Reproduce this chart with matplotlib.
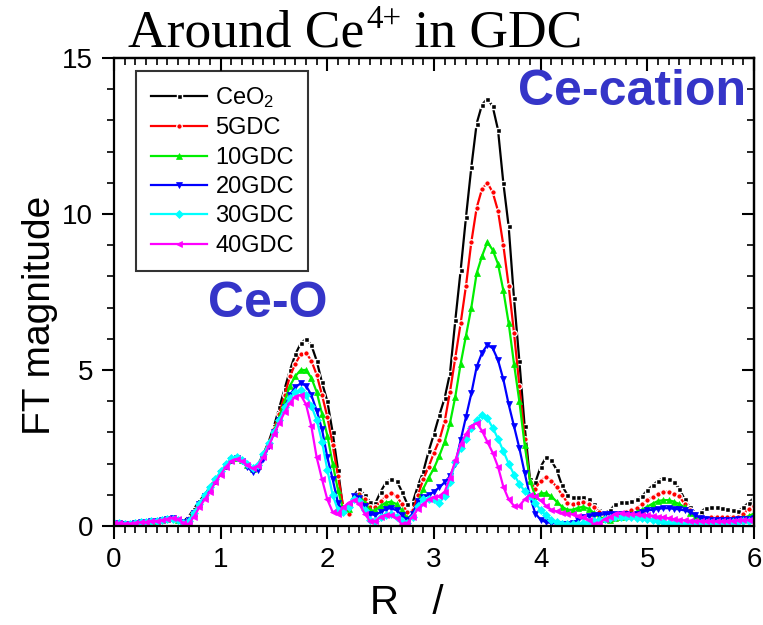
import numpy as np
import matplotlib
matplotlib.use("Agg")
import matplotlib.pyplot as plt
from matplotlib.ticker import MultipleLocator

# R grid (Angstrom), step 0.05 from 0 to 6
R = np.round(np.arange(0, 6.0001, 0.05), 3)

ceo2 = [0.10, 0.10, 0.08, 0.08, 0.10, 0.12, 0.12, 0.15, 0.15, 0.18,
        0.22, 0.25, 0.20, 0.14, 0.30, 0.55, 0.80, 1.00, 1.25, 1.50,
        1.70, 1.90, 2.08, 2.15, 2.08, 1.95, 1.88, 1.97, 2.30, 2.70,
        3.20, 3.80, 4.40, 5.00, 5.50, 5.85, 6.00, 5.80, 5.30, 4.60,
        4.00, 3.00, 1.80, 0.50, 0.45, 1.00, 1.18, 1.00, 0.78, 0.73,
        1.10, 1.40, 1.50, 1.45, 1.10, 0.70, 0.75, 1.30, 1.75, 2.40,
        2.95, 3.55, 4.10, 4.90, 6.60, 8.20, 9.90, 11.50, 12.90, 13.50,
        13.70, 13.45, 12.70, 11.00, 9.60, 7.30, 5.30, 3.20, 1.50, 1.40,
        1.90, 2.20, 2.10, 1.80, 1.30, 1.00, 0.92, 0.94, 0.92, 0.85,
        0.70, 0.50, 0.42, 0.50, 0.70, 0.76, 0.78, 0.80, 0.85, 0.95,
        1.15, 1.30, 1.45, 1.53, 1.50, 1.40, 1.20, 0.85, 0.60, 0.42,
        0.45, 0.58, 0.62, 0.60, 0.57, 0.55, 0.50, 0.47, 0.60, 0.75,
        0.90]

gdc5 = [0.10, 0.10, 0.08, 0.08, 0.10, 0.12, 0.12, 0.15, 0.15, 0.18,
        0.22, 0.26, 0.20, 0.12, 0.22, 0.45, 0.72, 0.95, 1.20, 1.45,
        1.70, 1.90, 2.08, 2.17, 2.10, 1.95, 1.85, 1.95, 2.28, 2.65,
        3.10, 3.60, 4.20, 4.80, 5.20, 5.50, 5.55, 5.30, 4.85, 4.20,
        3.50, 2.60, 1.60, 0.60, 0.40, 0.95, 1.02, 0.85, 0.62, 0.60,
        0.80, 0.95, 1.05, 0.95, 0.70, 0.45, 0.50, 1.00, 1.50, 1.90,
        2.35, 2.75, 3.35, 4.30, 5.40, 6.50, 7.70, 9.10, 10.20, 10.80,
        11.00, 10.70, 10.10, 9.00, 7.70, 6.20, 4.50, 2.80, 1.40, 1.20,
        1.45, 1.58, 1.45, 1.25, 1.00, 0.75, 0.70, 0.75, 0.78, 0.72,
        0.62, 0.45, 0.32, 0.32, 0.38, 0.42, 0.45, 0.50, 0.57, 0.70,
        0.82, 0.94, 1.03, 1.10, 1.10, 1.03, 0.95, 0.70, 0.50, 0.38,
        0.30, 0.25, 0.28, 0.30, 0.30, 0.30, 0.30, 0.30, 0.38, 0.55,
        0.65]

gdc10 = [0.10, 0.10, 0.08, 0.08, 0.10, 0.12, 0.12, 0.15, 0.15, 0.18,
         0.22, 0.25, 0.20, 0.12, 0.18, 0.42, 0.70, 0.95, 1.20, 1.45,
         1.70, 1.92, 2.10, 2.17, 2.10, 1.95, 1.82, 1.92, 2.25, 2.62,
         3.05, 3.50, 4.00, 4.50, 4.80, 5.00, 5.00, 4.75, 4.30, 3.60,
         2.90, 2.00, 1.15, 0.50, 0.55, 0.95, 0.95, 0.75, 0.50, 0.50,
         0.65, 0.75, 0.78, 0.70, 0.50, 0.25, 0.35, 0.75, 1.20, 1.55,
         1.85, 2.25, 2.70, 3.30, 4.15, 5.20, 6.10, 7.00, 8.10, 8.65,
         9.10, 8.85, 8.40, 7.55, 6.50, 5.20, 4.00, 2.60, 1.45, 0.95,
         1.05, 1.05, 0.95, 0.78, 0.62, 0.52, 0.52, 0.58, 0.62, 0.55,
         0.42, 0.30, 0.22, 0.20, 0.25, 0.30, 0.32, 0.38, 0.45, 0.52,
         0.62, 0.72, 0.80, 0.83, 0.83, 0.78, 0.70, 0.60, 0.42, 0.28,
         0.20, 0.16, 0.15, 0.15, 0.17, 0.18, 0.20, 0.20, 0.25, 0.32,
         0.40]

gdc20 = [0.10, 0.10, 0.08, 0.08, 0.10, 0.12, 0.12, 0.15, 0.15, 0.18,
         0.22, 0.25, 0.20, 0.12, 0.18, 0.42, 0.70, 0.95, 1.20, 1.45,
         1.70, 1.92, 2.10, 2.17, 2.08, 1.90, 1.72, 1.80, 2.15, 2.55,
         3.00, 3.40, 3.80, 4.20, 4.45, 4.57, 4.50, 4.20, 3.70, 3.10,
         2.20, 1.50, 0.73, 0.45, 0.60, 0.95, 0.90, 0.65, 0.38, 0.35,
         0.45, 0.55, 0.57, 0.50, 0.35, 0.20, 0.40, 0.80, 0.92, 1.00,
         1.10, 1.24, 1.40, 1.60, 2.00, 2.75, 3.50, 4.25, 5.10, 5.55,
         5.80, 5.70, 5.32, 4.70, 3.90, 3.20, 2.50, 1.70, 0.94, 0.40,
         0.20, 0.12, 0.10, 0.08, 0.06, 0.05, 0.10, 0.20, 0.28, 0.33,
         0.35, 0.36, 0.38, 0.38, 0.40, 0.40, 0.38, 0.36, 0.40, 0.46,
         0.50, 0.52, 0.55, 0.57, 0.57, 0.55, 0.53, 0.50, 0.45, 0.35,
         0.25, 0.22, 0.20, 0.20, 0.20, 0.20, 0.20, 0.22, 0.22, 0.24,
         0.25]

gdc30 = [0.10, 0.10, 0.08, 0.08, 0.10, 0.12, 0.12, 0.15, 0.15, 0.18,
         0.22, 0.22, 0.18, 0.10, 0.15, 0.42, 0.72, 1.00, 1.25, 1.50,
         1.75, 1.98, 2.18, 2.22, 2.12, 1.98, 1.85, 1.95, 2.30, 2.65,
         3.00, 3.40, 3.80, 4.10, 4.30, 4.36, 4.20, 3.85, 3.40, 2.70,
         1.80, 1.00, 0.50, 0.45, 0.60, 0.85, 0.80, 0.50, 0.20, 0.15,
         0.30, 0.35, 0.40, 0.30, 0.15, 0.10, 0.30, 0.65, 0.85, 0.88,
         0.85, 0.75, 0.95, 1.40, 2.05, 2.50, 2.80, 3.15, 3.40, 3.56,
         3.45, 3.15, 2.80, 2.40, 2.00, 1.65, 1.35, 1.12, 0.95, 0.75,
         0.50, 0.35, 0.20, 0.12, 0.08, 0.05, 0.06, 0.08, 0.10, 0.12,
         0.16, 0.20, 0.22, 0.25, 0.28, 0.30, 0.30, 0.28, 0.27, 0.25,
         0.22, 0.20, 0.15, 0.12, 0.10, 0.08, 0.07, 0.06, 0.08, 0.10,
         0.10, 0.10, 0.10, 0.10, 0.10, 0.10, 0.12, 0.13, 0.15, 0.17,
         0.20]

gdc40 = [0.10, 0.10, 0.08, 0.08, 0.10, 0.12, 0.12, 0.15, 0.15, 0.18,
         0.22, 0.27, 0.22, 0.10, 0.06, 0.30, 0.60, 0.85, 1.10, 1.40,
         1.65, 1.90, 2.08, 2.15, 2.08, 1.95, 1.85, 1.92, 2.22, 2.55,
         2.95, 3.30, 3.65, 3.95, 4.15, 4.20, 3.90, 3.20, 2.20, 1.50,
         0.85, 0.45, 0.40, 0.60, 0.75, 0.83, 0.70, 0.40, 0.15, 0.15,
         0.30, 0.35, 0.35, 0.25, 0.05, 0.10, 0.30, 0.55, 0.70, 0.85,
         0.92, 0.96, 1.10, 1.55, 2.10, 2.62, 2.95, 3.20, 3.30, 3.05,
         2.70, 2.35, 1.90, 1.26, 0.85, 0.65, 0.65, 0.85, 1.00, 0.95,
         0.82, 0.65, 0.52, 0.47, 0.43, 0.40, 0.38, 0.33, 0.28, 0.20,
         0.05, 0.10, 0.22, 0.30, 0.40, 0.42, 0.40, 0.38, 0.37, 0.36,
         0.35, 0.33, 0.30, 0.28, 0.25, 0.22, 0.20, 0.18, 0.17, 0.16,
         0.15, 0.15, 0.15, 0.15, 0.15, 0.15, 0.17, 0.18, 0.20, 0.20,
         0.20]

labels = ["CeO$_2$", "5GDC", "10GDC", "20GDC", "30GDC", "40GDC"]
series = [ceo2, gdc5, gdc10, gdc20, gdc30, gdc40]
colors = ["#000000", "#ff0000", "#00ee00", "#0000ff", "#00ffff", "#ff00ff"]
markers = ["s", "o", "^", "v", "D", "<"]
msizes = [3.6, 4.0, 4.8, 4.8, 4.0, 4.4]
edgecols = ["white", "white", "#00ee00", "#0000ff", "#00ffff", "#ff00ff"]
edgews = [1.0, 0.9, 0.5, 0.5, 0.5, 0.5]

plt.rcParams['font.family'] = ['Liberation Sans', 'DejaVu Sans']
plt.rcParams['mathtext.fontset'] = 'custom'
plt.rcParams['mathtext.rm'] = 'Liberation Sans'
plt.rcParams['mathtext.it'] = 'Liberation Sans:italic'

fig = plt.figure(figsize=(7.63, 6.25), dpi=100)
ax = fig.add_axes([0.1494, 0.1584, 0.8388, 0.7488])

for y, lab, c, m, ms, ec, ew in zip(series, labels, colors, markers, msizes,
                                    edgecols, edgews):
    ax.plot(R, y, color=c, lw=1.6, marker=m, ms=ms, mfc=c, mec=ec,
            mew=ew, label=lab)

ax.set_xlim(0, 6)
ax.set_ylim(0, 15)
ax.xaxis.set_major_locator(MultipleLocator(1))
ax.xaxis.set_minor_locator(MultipleLocator(0.1))
ax.yaxis.set_major_locator(MultipleLocator(5))
ax.yaxis.set_minor_locator(MultipleLocator(1))
for s in ax.spines.values():
    s.set_linewidth(1.6)
ax.tick_params(axis='both', which='major', labelsize=20, width=1.5, length=9,
               direction='out', pad=6)
ax.tick_params(axis='both', which='minor', width=1.2, length=5, direction='out')

secx = ax.secondary_xaxis('top')
secx.xaxis.set_major_locator(MultipleLocator(1))
secx.xaxis.set_minor_locator(MultipleLocator(0.1))
secx.tick_params(which='major', direction='in', length=9, width=1.5, labeltop=False)
secx.tick_params(which='minor', direction='in', length=5, width=1.2)
secx.spines['top'].set_linewidth(1.6)
secy = ax.secondary_yaxis('right')
secy.yaxis.set_major_locator(MultipleLocator(5))
secy.yaxis.set_minor_locator(MultipleLocator(1))
secy.tick_params(which='major', direction='in', length=9, width=1.5, labelright=False)
secy.tick_params(which='minor', direction='in', length=5, width=1.2)
secy.spines['right'].set_linewidth(1.6)

ax.set_xlabel("R   /", fontsize=29)
ax.xaxis.set_label_coords(0.457, -0.125, transform=ax.transAxes)
ax.xaxis.label.set_va('top')
ax.set_ylabel("FT magnitude", fontsize=28)
ax.yaxis.set_label_coords(-0.115, 0.45, transform=ax.transAxes)
ax.yaxis.label.set_va('center')

leg = ax.legend(loc='upper left', bbox_to_anchor=(0.035, 0.972), fontsize=17,
                frameon=True, fancybox=False, edgecolor='black',
                handlelength=2.4, handletextpad=0.35, labelspacing=0.31,
                borderpad=0.6, borderaxespad=0)
leg.get_frame().set_linewidth(1.5)

ax.text(1.44, 7.1, "Ce-O", color="#3535c8", fontsize=36, fontweight='bold',
        ha='center', va='center')
ax.text(4.86, 13.9, "Ce-cation", color="#3535c8", fontsize=36, fontweight='bold',
        ha='center', va='center')

# Title built from pieces, placed one after another
renderer = fig.canvas.get_renderer()
tsize = 38.5
t0 = fig.text(0.168, 0.925, "Around Ce", fontsize=tsize,
              family='Liberation Serif', ha='left', va='baseline')
bb0 = t0.get_window_extent(renderer)
x1 = bb0.x1 / fig.bbox.width
t1 = fig.text(x1 + 0.002, 0.925 + 0.031, "4+", fontsize=tsize * 0.62,
              family='Liberation Serif', ha='left', va='baseline')
bb1 = t1.get_window_extent(renderer)
x2 = bb1.x1 / fig.bbox.width
fig.text(x2, 0.925, " in GDC", fontsize=tsize, family='Liberation Serif',
         ha='left', va='baseline')

fig.savefig("out.png", dpi=100)
